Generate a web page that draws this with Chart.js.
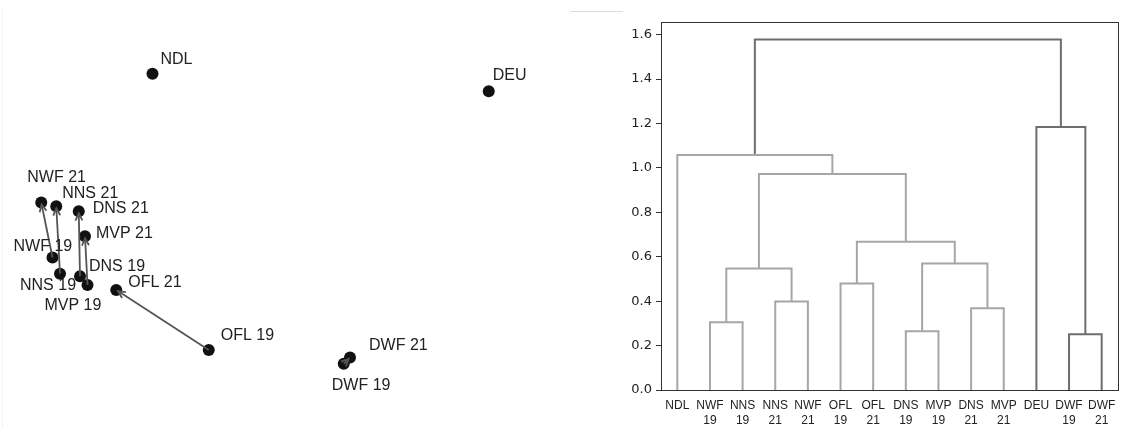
<!DOCTYPE html>
<html>
<head>
<meta charset="utf-8">
<script src="https://cdn.jsdelivr.net/npm/chart.js@4"></script>
<style>
  body { margin: 0; background: #fff; width: 1132px; height: 428px; position: relative; overflow: hidden; }
  #left { position: absolute; left: 0; top: 0; width: 575px; height: 428px; }
  #right { position: absolute; left: 600px; top: 0; width: 532px; height: 428px; }
  .edge-v { position: absolute; left: 2px; top: 10px; width: 1px; height: 418px; background: #f3f3f3; }
  .edge-h { position: absolute; left: 570px; top: 11px; width: 53px; height: 1px; background: #dcdcdc; }
</style>
</head>
<body>
<div class="edge-v"></div>
<div class="edge-h"></div>
<div id="left"><canvas id="mds"></canvas></div>
<div id="right"><canvas id="dendro"></canvas></div>
<script>
// ---- left panel: ordination of sites, 2019 -> 2021
const siteLabels = ["NDL", "DEU", "NWF 21", "NNS 21", "DNS 21", "MVP 21", "NWF 19", "NNS 19", "DNS 19", "MVP 19", "OFL 21", "OFL 19", "DWF 21", "DWF 19"];
const siteX = [-0.78, 1.91, -1.67, -1.55, -1.37, -1.32, -1.58, -1.52, -1.36, -1.30, -1.07, -0.33, 0.80, 0.75];
const siteY = [1.21, 1.07, 0.18, 0.15, 0.11, -0.09, -0.26, -0.39, -0.41, -0.48, -0.52, -1.00, -1.06, -1.11];

// label offsets in px (left/middle anchor), like adjustText placed them
const labelOffsets = {
  "NDL": [8, -14], "DEU": [4, -16], "NWF 21": [-14, -25], "NNS 21": [6, -13],
  "DNS 21": [14, -3], "MVP 21": [11, -3], "NWF 19": [-39, -11], "NNS 19": [-40, 12],
  "DNS 19": [9, -10], "MVP 19": [-43, 21], "OFL 21": [12, -7], "OFL 19": [12, -14],
  "DWF 21": [19, -12], "DWF 19": [-12, 22]
};

// ---- right panel: dendrogram
const leafLabels = ["NDL", "NWF 19", "NNS 19", "NNS 21", "NWF 21", "OFL 19", "OFL 21", "DNS 19", "MVP 19", "DNS 21", "MVP 21", "DEU", "DWF 19", "DWF 21"];
// scipy-style linkage: ids < 14 are leaves (in plotted order), 14+ are merged clusters
const linkLeft = [1, 3, 14, 5, 7, 9, 18, 17, 16, 0, 12, 11, 23];
const linkRight = [2, 4, 15, 6, 8, 10, 19, 20, 21, 22, 13, 24, 25];
const linkHeight = [0.305, 0.399, 0.547, 0.480, 0.265, 0.368, 0.569, 0.668, 0.973, 1.058, 0.251, 1.184, 1.578];
const yTicks = [0, 0.2, 0.4, 0.6, 0.8, 1.0, 1.2, 1.4, 1.6];

const darkLink = "#6e6e6e";
const lightLink = "#a6a6a6";
const linkColors = linkHeight.map((h, i) => (i >= 10 ? darkLink : lightLink));

// ---------- left chart ----------
const arrowPlugin = {
  id: "arrows",
  afterDatasetsDraw(chart) {
    const { ctx, scales: { x, y } } = chart;
    ctx.save();
    ctx.strokeStyle = "#555";
    ctx.lineWidth = 1.8;
    siteLabels.forEach((lab, i) => {
      if (!lab.endsWith(" 19")) return;
      const j = siteLabels.indexOf(lab.replace(" 19", " 21"));
      if (j < 0) return;
      const x0 = x.getPixelForValue(siteX[i]), y0 = y.getPixelForValue(siteY[i]);
      const x1 = x.getPixelForValue(siteX[j]), y1 = y.getPixelForValue(siteY[j]);
      const ang = Math.atan2(y1 - y0, x1 - x0);
      const tx = x1 - Math.cos(ang) * 2, ty = y1 - Math.sin(ang) * 2;
      ctx.beginPath();
      ctx.moveTo(x0, y0);
      ctx.lineTo(tx, ty);
      ctx.stroke();
      const hl = 8, ha = 0.45;
      ctx.beginPath();
      ctx.moveTo(tx - hl * Math.cos(ang - ha), ty - hl * Math.sin(ang - ha));
      ctx.lineTo(tx, ty);
      ctx.lineTo(tx - hl * Math.cos(ang + ha), ty - hl * Math.sin(ang + ha));
      ctx.stroke();
    });
    ctx.restore();
  }
};

const siteLabelPlugin = {
  id: "siteLabels",
  afterDraw(chart) {
    const { ctx, scales: { x, y } } = chart;
    ctx.save();
    ctx.font = '16px "Liberation Sans", Arial, sans-serif';
    ctx.fillStyle = "#222";
    ctx.textAlign = "left";
    ctx.textBaseline = "middle";
    siteLabels.forEach((lab, i) => {
      const off = labelOffsets[lab] || [6, -10];
      ctx.fillText(lab, x.getPixelForValue(siteX[i]) + off[0], y.getPixelForValue(siteY[i]) + off[1]);
    });
    ctx.restore();
  }
};

new Chart(document.getElementById("mds"), {
  type: "scatter",
  data: {
    datasets: [{
      data: siteX.map((v, i) => ({ x: v, y: siteY[i] })),
      pointRadius: 6,
      pointBackgroundColor: "#111",
      pointBorderWidth: 0,
    }],
  },
  options: {
    responsive: true,
    maintainAspectRatio: false,
    animation: false,
    layout: { padding: 0, autoPadding: false },
    plugins: { legend: { display: false }, tooltip: { enabled: false } },
    scales: {
      x: { display: false, min: -2, max: 2.6 },
      y: { display: false, min: -1.624, max: 1.8 },
    },
  },
  plugins: [arrowPlugin, siteLabelPlugin],
});

// ---------- right chart ----------
const nLeaves = leafLabels.length;
const nodeX = leafLabels.map((_, i) => 5 + 10 * i);
const nodeH = leafLabels.map(() => 0);
const linkSets = linkLeft.map((a, i) => {
  const b = linkRight[i], h = linkHeight[i];
  nodeX[nLeaves + i] = (nodeX[a] + nodeX[b]) / 2;
  nodeH[nLeaves + i] = h;
  return {
    data: [
      { x: nodeX[a], y: nodeH[a] },
      { x: nodeX[a], y: h },
      { x: nodeX[b], y: h },
      { x: nodeX[b], y: nodeH[b] },
    ],
    showLine: true,
    borderColor: linkColors[i],
    borderWidth: 2,
    pointRadius: 0,
    fill: false,
  };
});

const framePlugin = {
  id: "frame",
  afterDraw(chart) {
    const { ctx, chartArea: a } = chart;
    ctx.save();
    ctx.strokeStyle = "#333";
    ctx.lineWidth = 1;
    ctx.strokeRect(Math.round(a.left) + 0.5, Math.round(a.top) + 0.5, Math.round(a.right - a.left), Math.round(a.bottom - a.top));
    ctx.restore();
  }
};

new Chart(document.getElementById("dendro"), {
  type: "scatter",
  data: { datasets: linkSets },
  options: {
    responsive: true,
    maintainAspectRatio: false,
    animation: false,
    layout: { padding: { left: 0, right: 14, top: 22, bottom: 0 } },
    plugins: { legend: { display: false }, tooltip: { enabled: false } },
    scales: {
      x: {
        type: "linear",
        min: 0,
        max: nLeaves * 10,
        grid: { display: false },
        border: { display: false },
        afterBuildTicks: (s) => { s.ticks = leafLabels.map((_, i) => ({ value: 5 + 10 * i })); },
        afterFit: (s) => { s.height = 38; },
        ticks: {
          autoSkip: false,
          maxRotation: 0,
          padding: 0,
          color: "#222",
          font: { family: '"Liberation Sans", Arial, sans-serif', size: 12, lineHeight: 1.25 },
          callback: (v, i) => leafLabels[i].split(" "),
        },
      },
      y: {
        min: 0,
        max: Math.max(...linkHeight) * 1.05,
        grid: { display: true, drawOnChartArea: false, drawTicks: true, tickLength: 5, color: "#333" },
        border: { display: false },
        afterBuildTicks: (s) => { s.ticks = yTicks.map((v) => ({ value: v })); },
        afterFit: (s) => { s.width = 61; },
        ticks: {
          padding: 4,
          color: "#222",
          font: { family: '"DejaVu Sans", sans-serif', size: 13 },
          callback: (v) => Number(v).toFixed(1),
        },
      },
    },
  },
  plugins: [framePlugin],
});
</script>
</body>
</html>
